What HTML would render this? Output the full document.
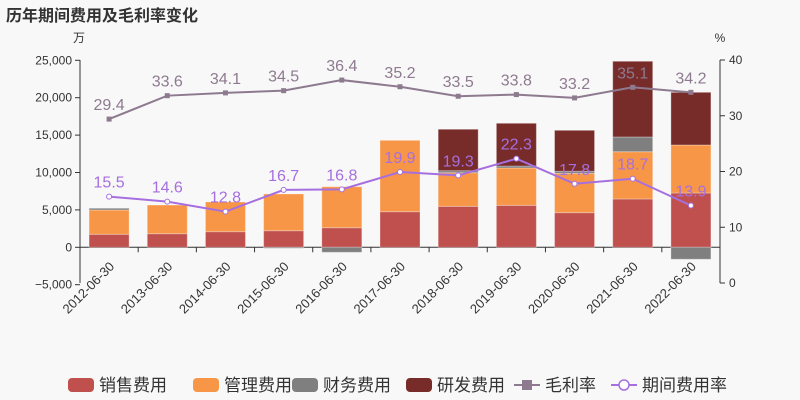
<!DOCTYPE html>
<html><head><meta charset="utf-8"><style>
body{margin:0;background:#f8f8f8;}
svg{font-family:"Liberation Sans","Noto Sans CJK SC",sans-serif;display:block}
</style></head><body>
<svg id="c" width="800" height="400">
<rect width="800" height="400" fill="#f8f8f8"/>
<text x="6" y="21" font-size="16" font-weight="bold" fill="#333">历年期间费用及毛利率变化</text>
<text x="79" y="42" font-size="12" fill="#333" text-anchor="middle">万</text>
<text x="720" y="42" font-size="12" fill="#333" text-anchor="middle">%</text>
<g id="g"></g>
</svg>
<script>
const categories=["2012-06-30","2013-06-30","2014-06-30","2015-06-30","2016-06-30","2017-06-30","2018-06-30","2019-06-30","2020-06-30","2021-06-30","2022-06-30"];
const sales=[1740,1820,2090,2220,2620,4760,5480,5610,4630,6460,7260];
const mgmt=[3250,3830,3970,4910,5480,9540,4490,4990,5260,6320,6420];
const finance=[230,0,0,-130,-670,0,270,270,270,1970,-1600];
const rd=[0,0,0,0,0,0,5540,5710,5480,10120,7040];
const gross=[29.4,33.6,34.1,34.5,36.4,35.2,33.5,33.8,33.2,35.1,34.2];
const expRate=[15.5,14.6,12.8,16.7,16.8,19.9,19.3,22.3,17.8,18.7,13.9];
const leftTicks=[-5000,0,5000,10000,15000,20000,25000];
const rightTicks=[0,10,20,30,40];
const NS="http://www.w3.org/2000/svg";
const g=document.getElementById('g');
const L=80,R=720,band=(R-L)/categories.length;
const y=v=>247.3-v*0.00748;
const yr=v=>283-v*223/40;
const xc=i=>L+band*(i+0.5);
function el(t,a,txt){const e=document.createElementNS(NS,t);for(const k in a)e.setAttribute(k,a[k]);if(txt!==undefined)e.textContent=txt;g.appendChild(e);return e;}
let e=el('line',{x1:L,y1:60,x2:L,y2:283,stroke:'#333'});

e=el('line',{x1:R,y1:60,x2:R,y2:283,stroke:'#333'});

leftTicks.forEach(v=>{
 e=el('line',{x1:L-5,y1:y(v),x2:L,y2:y(v),stroke:'#333'});
 
 e=el('text',{x:L-8,y:y(v)+4,'font-size':12,fill:'#333','text-anchor':'end'},v<0?"−"+Math.abs(v).toLocaleString('en-US'):v.toLocaleString('en-US'));
 
});
rightTicks.forEach(v=>{
 e=el('line',{x1:R,y1:yr(v),x2:R+5,y2:yr(v),stroke:'#333'});
 
 e=el('text',{x:R+9,y:yr(v)+4,'font-size':12,fill:'#333'},String(v));
 
});
e=el('line',{x1:L,y1:y(0),x2:R,y2:y(0),stroke:'#333'});

categories.forEach((c,i)=>{
 const tx=L+band*(i+1);
 e=el('line',{x1:tx,y1:y(0),x2:tx,y2:y(0)+5,stroke:'#333'});
 
 e=el('text',{x:xc(i)+6,y:y(0)+20,'font-size':13,fill:'#333','text-anchor':'end',transform:`rotate(-45 ${xc(i)+6} ${y(0)+20})`},c);
 
});
const bw=40;
const series=[[sales,'#c0504d','sales'],[mgmt,'#f79646','mgmt'],[finance,'#7f7f7f','finance'],[rd,'#772c2a','rd']];
categories.forEach((c,i)=>{
 let pos=0,neg=0;
 series.forEach(([arr,col,nm])=>{
  const v=arr[i];if(!v)return;
  let y0,y1;
  if(v>0){y0=y(pos);y1=y(pos+v);pos+=v;}else{y0=y(neg+v);y1=y(neg);neg+=v;}
  const top=Math.min(y0,y1),h=Math.abs(y0-y1);
  e=el('rect',{x:xc(i)-bw/2,y:top,width:bw,height:h,fill:col,stroke:'rgba(255,255,255,0.3)'});
  
 });
});
function line(arr,col,nm,square){
 e=el('polyline',{points:arr.map((v,i)=>xc(i)+','+yr(v)).join(' '),fill:'none',stroke:col,'stroke-width':2});
 
 arr.forEach((v,i)=>{
  if(square){e=el('rect',{x:xc(i)-2.5,y:yr(v)-2.5,width:5,height:5,fill:col});}
  else{e=el('circle',{cx:xc(i),cy:yr(v),r:2.5,fill:'#fff',stroke:col,'stroke-width':1});}
  
  e=el('text',{x:xc(i),y:yr(v)-9,'font-size':16,fill:col,'text-anchor':'middle'},v.toFixed(1));
  
 });
}
line(gross,'#8e7a8f','gross-margin',true);
line(expRate,'#a66fe0','expense-rate',false);
const leg=[['销售费用','#c0504d','bar'],['管理费用','#f79646','bar'],['财务费用','#7f7f7f','bar'],['研发费用','#772c2a','bar'],['毛利率','#8e7a8f','sq'],['期间费用率','#a66fe0','ci']];
const lx=[68,193,292,406,514,611];
leg.forEach(([t,col,k],j)=>{
 const x=lx[j],cy=385;
 if(k==='bar'){e=el('rect',{x:x,y:cy-7,width:26,height:14,rx:4,fill:col});}
 else{
  el('line',{x1:x,y1:cy,x2:x+26,y2:cy,stroke:col,'stroke-width':2});
  if(k==='sq')e=el('rect',{x:x+8,y:cy-5,width:10,height:10,fill:col});
  else e=el('circle',{cx:x+13,cy:cy,r:5,fill:'#fff',stroke:col,'stroke-width':1.5});
 }
 
 e=el('text',{x:x+31,y:cy+6,'font-size':17,fill:'#333'},t);
 
});
</script>
</body></html>
